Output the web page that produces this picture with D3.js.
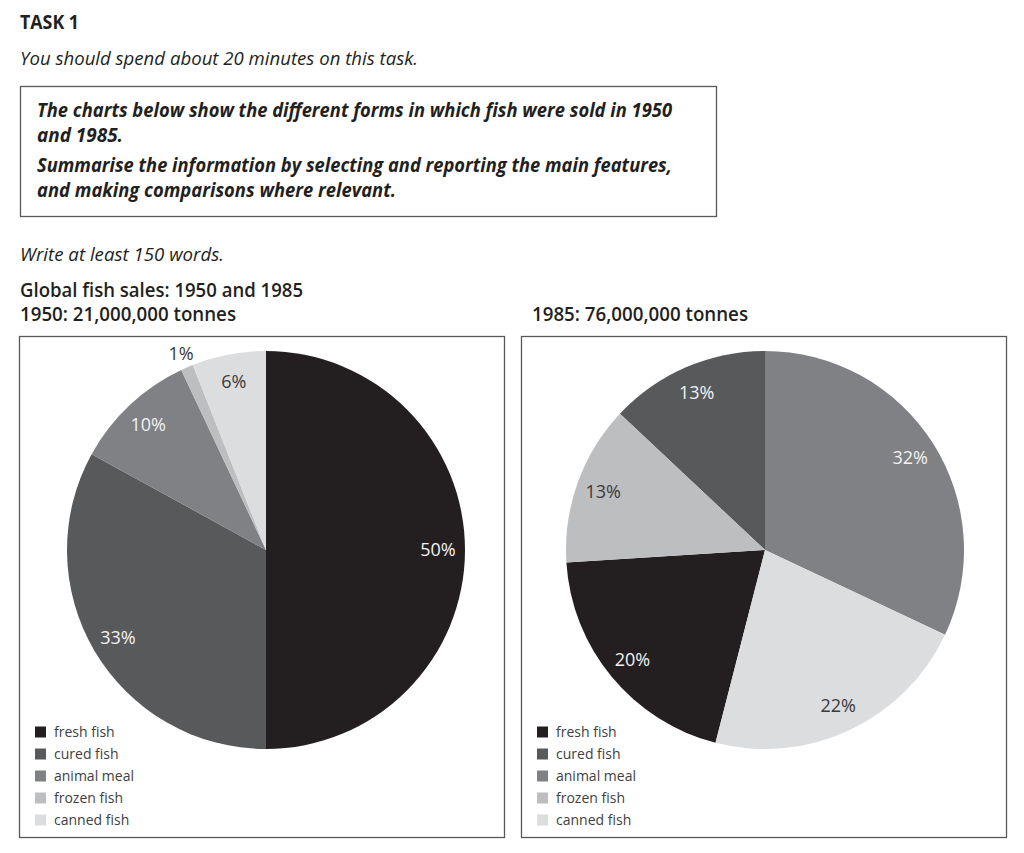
<!DOCTYPE html>
<html>
<head>
<meta charset="utf-8">
<script src="https://cdn.jsdelivr.net/npm/d3@7"></script>
<style>
  html, body { margin: 0; padding: 0; background: #fff; }
  svg { display: block; }
  text { font-family: "Open Sans", "Noto Sans", sans-serif; fill: #231f20; }
</style>
</head>
<body>
<svg id="chart" width="1024" height="853"></svg>
<script>
// ---- data ----
const categories = ["fresh fish", "cured fish", "animal meal", "frozen fish", "canned fish"];
const values1950 = [50, 33, 10, 1, 6];
const values1985 = [20, 13, 32, 13, 22];
const order1950 = ["fresh fish", "cured fish", "animal meal", "frozen fish", "canned fish"];
const order1985 = ["animal meal", "canned fish", "fresh fish", "frozen fish", "cured fish"];
const colors = ["#231f20", "#58595b", "#808184", "#bcbec0", "#dcdddf"];
const darkCats = ["fresh fish", "cured fish", "animal meal"];
const chartTitles = ["1950: 21,000,000 tonnes", "1985: 76,000,000 tonnes"];

const svg = d3.select("#chart");
const color = d3.scaleOrdinal().domain(categories).range(colors);

// ---- header text ----
function txt(x, y, s, opts) {
  const t = svg.append("text").attr("x", x).attr("y", y).text(s)
    .attr("font-size", opts.size || 19)
    .attr("font-weight", opts.weight || 400)
    .attr("font-style", opts.italic ? "italic" : "normal");
  if (opts.len) t.attr("textLength", opts.len).attr("lengthAdjust", "spacingAndGlyphs");
  return t;
}
txt(20, 29, "TASK 1", {size: 19, weight: 700, len: 59});
txt(20, 65, "You should spend about 20 minutes on this task.", {size: 19, italic: true, len: 398});

svg.append("rect").attr("x", 20.5).attr("y", 86.5).attr("width", 696).attr("height", 130)
  .attr("fill", "none").attr("stroke", "#58595b").attr("stroke-width", 1.3);
txt(37, 117, "The charts below show the different forms in which fish were sold in 1950", {size: 19, weight: 700, italic: true, len: 635});
txt(37, 142, "and 1985.", {size: 19, weight: 700, italic: true, len: 86});
txt(37, 172, "Summarise the information by selecting and reporting the main features,", {size: 19, weight: 700, italic: true, len: 635});
txt(37, 197, "and making comparisons where relevant.", {size: 19, weight: 700, italic: true, len: 359});

txt(20, 261, "Write at least 150 words.", {size: 19, italic: true, len: 204});
txt(20, 297, "Global fish sales: 1950 and 1985", {size: 19, weight: 600, len: 283});

// ---- pies ----
const panels = [
  {x: 20, tx: 20, cx: 266, title: chartTitles[0], values: values1950, order: order1950},
  {x: 522, tx: 532, cx: 765, title: chartTitles[1], values: values1985, order: order1985}
];
const R = 199;
const arc = d3.arc().innerRadius(0).outerRadius(R);
const labelArc = d3.arc().innerRadius(172).outerRadius(172);
const outerLabelArc = d3.arc().innerRadius(214).outerRadius(214);

panels.forEach(p => {
  txt(p.tx, 321, p.title, {size: 19, weight: 600, len: 216});
  const g = svg.append("g");
  g.append("rect").attr("x", p.x - 0.5).attr("y", 336.5).attr("width", 485).attr("height", 501)
    .attr("fill", "none").attr("stroke", "#58595b").attr("stroke-width", 1.3);

  const data = categories.map((c, i) => ({cat: c, value: p.values[i]}));
  const pie = d3.pie().value(d => d.value)
    .sort((a, b) => p.order.indexOf(a.cat) - p.order.indexOf(b.cat));
  const arcs = pie(data);
  const pg = g.append("g").attr("transform", `translate(${p.cx},550)`);
  pg.selectAll("path").data(arcs).join("path")
    .attr("d", arc).attr("fill", d => color(d.data.cat));
  pg.selectAll("text.lbl").data(arcs).join("text").attr("class", "lbl")
    .attr("transform", d => `translate(${(d.data.value < 3 ? outerLabelArc : labelArc).centroid(d)})`)
    .attr("text-anchor", "middle").attr("dy", "0.36em")
    .attr("font-size", 18)
    .style("fill", d => (d.data.value >= 3 && darkCats.includes(d.data.cat)) ? "#f2f2f2" : "#3a3a3c")
    .text(d => d.data.value + "%");

  // legend
  const lg = g.append("g").attr("transform", `translate(${p.x + 15},732)`);
  const items = lg.selectAll("g").data(categories).join("g")
    .attr("transform", (d, i) => `translate(0,${i * 22})`);
  items.append("rect").attr("x", 0).attr("y", -5.5).attr("width", 11).attr("height", 11)
    .attr("fill", d => color(d));
  items.append("text").attr("x", 19).attr("dy", "0.35em").attr("font-size", 14)
    .style("fill", "#414042").text(d => d);
});
</script>
</body>
</html>
